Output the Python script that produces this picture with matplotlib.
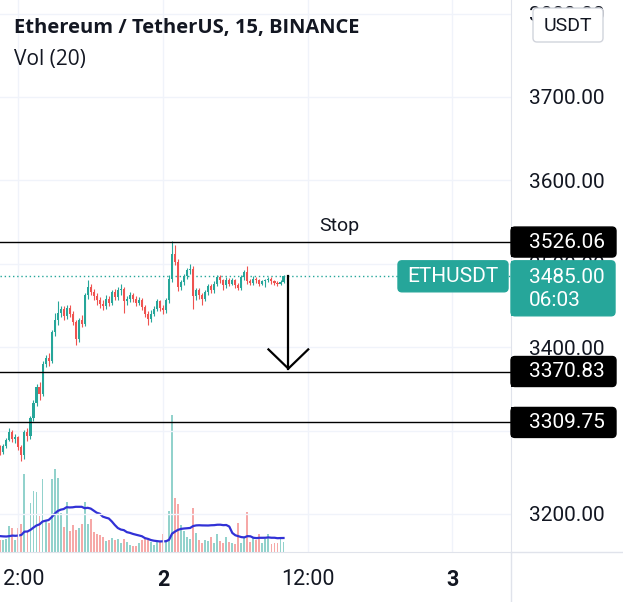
import numpy as np
import pandas as pd
import matplotlib
matplotlib.use('Agg')
import matplotlib.pyplot as plt
from matplotlib.patches import FancyBboxPatch, Rectangle

# ---- data: ETHUSDT 15m candles, 1 Apr 10:30 -> 2 Apr 10:00 ----
opens = [3280, 3274, 3281, 3289, 3298, 3290, 3292, 3280, 3271, 3298,
         3293, 3315, 3333, 3352, 3344, 3380, 3387, 3384, 3418, 3432,
         3441, 3446, 3437, 3447, 3440, 3430, 3410, 3432, 3428, 3462,
         3472, 3466, 3461, 3456, 3452, 3449, 3458, 3453, 3466, 3460,
         3468, 3470, 3455, 3458, 3462, 3458, 3453, 3457, 3448, 3440,
         3434, 3440, 3446, 3455, 3447, 3444, 3456, 3482, 3512, 3502,
         3472, 3478, 3485, 3492, 3494, 3461, 3468, 3462, 3458, 3466,
         3473, 3468, 3476, 3484, 3480, 3474, 3481, 3476, 3480, 3474,
         3471, 3484, 3490, 3479, 3477, 3482, 3480, 3476, 3479, 3480,
         3482, 3479, 3477, 3476, 3478]
highs = [3283, 3284, 3291, 3303, 3301, 3296, 3294, 3283, 3301, 3303,
         3318, 3337, 3356, 3358, 3384, 3391, 3393, 3421, 3441, 3455,
         3449, 3449, 3451, 3450, 3443, 3433, 3435, 3438, 3465, 3481,
         3476, 3470, 3465, 3460, 3457, 3462, 3461, 3469, 3470, 3472,
         3476, 3472, 3461, 3466, 3465, 3461, 3460, 3459, 3451, 3443,
         3444, 3449, 3458, 3457, 3450, 3459, 3486, 3527, 3522, 3506,
         3481, 3488, 3495, 3500, 3497, 3471, 3471, 3465, 3469, 3476,
         3476, 3479, 3487, 3487, 3482, 3484, 3483, 3483, 3482, 3477,
         3487, 3493, 3497, 3482, 3485, 3484, 3482, 3481, 3482, 3484,
         3484, 3481, 3479, 3480, 3487]
lows = [3271, 3272, 3279, 3287, 3286, 3285, 3277, 3263, 3266, 3288,
        3290, 3311, 3330, 3337, 3341, 3376, 3378, 3381, 3414, 3427,
        3436, 3433, 3434, 3436, 3426, 3403, 3406, 3424, 3425, 3458,
        3462, 3457, 3451, 3447, 3445, 3446, 3449, 3450, 3456, 3457,
        3463, 3441, 3450, 3454, 3454, 3449, 3450, 3445, 3436, 3427,
        3430, 3437, 3443, 3443, 3440, 3441, 3453, 3478, 3498, 3467,
        3468, 3475, 3482, 3488, 3446, 3457, 3458, 3451, 3455, 3463,
        3465, 3465, 3473, 3477, 3468, 3471, 3473, 3474, 3471, 3468,
        3469, 3481, 3476, 3474, 3475, 3477, 3473, 3474, 3472, 3478,
        3476, 3475, 3473, 3474, 3477]
closes = [3274, 3281, 3289, 3298, 3290, 3292, 3280, 3271, 3298, 3293,
          3315, 3333, 3352, 3344, 3380, 3387, 3384, 3418, 3432, 3441,
          3446, 3437, 3447, 3440, 3430, 3410, 3432, 3428, 3462, 3472,
          3466, 3461, 3456, 3452, 3449, 3458, 3453, 3466, 3460, 3468,
          3470, 3455, 3458, 3462, 3458, 3453, 3457, 3448, 3440, 3434,
          3440, 3446, 3455, 3447, 3444, 3456, 3482, 3512, 3502, 3472,
          3478, 3485, 3492, 3494, 3461, 3468, 3462, 3458, 3466, 3473,
          3468, 3476, 3484, 3480, 3474, 3481, 3476, 3480, 3474, 3471,
          3484, 3490, 3479, 3477, 3482, 3480, 3476, 3479, 3480, 3482,
          3479, 3477, 3476, 3478, 3485]
volumes = [240, 240, 260, 520, 480, 240, 480, 560, 1560, 400,
           980, 1220, 1200, 720, 1460, 640, 580, 1460, 1660, 1480,
           780, 500, 1000, 420, 540, 440, 480, 560, 1000, 560,
           660, 400, 360, 340, 300, 220, 240, 280, 240, 260,
           180, 260, 200, 140, 120, 120, 180, 240, 260, 240,
           200, 140, 200, 200, 360, 240, 820, 2740, 1080, 960,
           540, 420, 300, 260, 880, 380, 240, 180, 240, 220,
           300, 180, 360, 220, 180, 300, 200, 180, 160, 580,
           180, 300, 800, 200, 300, 240, 360, 180, 260, 360,
           160, 180, 180, 280, 200]
# volumes of the 19 bars before the visible window (for the 20-bar MA)
prior_volumes = [340, 300, 360, 280, 320, 380, 300, 260, 340, 320,
                 300, 360, 280, 340, 300, 320, 360, 300, 340]

levels = [3526.06, 3370.83, 3309.75]
last_price = 3485.00
countdown = '06:03'
price_ticks = [3200, 3300, 3400, 3500, 3600, 3700, 3800]
time_ticks = [-12, 0, 12, 24]
time_labels = ['12:00', '2', '12:00', '3']

UP = '#26a69a'
DOWN = '#ef5350'
TXT = '#131722'
plt.rcParams['font.family'] = ['Roboto', 'DejaVu Sans']

W, H = 623, 602
fig = plt.figure(figsize=(W / 100, H / 100), dpi=100)
ax = fig.add_axes([0, 50 / H, 511 / W, 552 / H])

t = -13.5 + 0.25 * np.arange(len(closes))  # hours from 2 Apr 00:00
o, h, l, c = map(np.array, (opens, highs, lows, closes))
col = np.where(c >= o, UP, DOWN)

# volume pane (overlaid at the bottom)
vax = ax.twinx()
vax.bar(t, volumes, width=0.16, color=col, alpha=0.5, lw=0)
vol_ma = pd.Series(prior_volumes + volumes).rolling(20).mean().iloc[len(prior_volumes):]
vax.plot(t, vol_ma.values, color='#3131d6', lw=1.6)
vax.set_ylim(0, max(volumes) * 552 / 137)
vax.axis('off')
ax.set_zorder(vax.get_zorder() + 1)
ax.patch.set_visible(False)

# candles
ax.vlines(t, l, h, colors=col, lw=0.8, zorder=3)
ax.bar(t, np.maximum(np.abs(c - o), 1.0), bottom=np.minimum(o, c),
       width=0.17, color=col, lw=0, zorder=4)

ax.set_xlim(-13.53, 28.88)
ax.set_ylim(3154.4, 3816.3)

# drawings
for lv in levels:
    ax.axhline(lv, color='black', lw=1.0, zorder=5)
ax.axhline(last_price, color=UP, lw=1.0, ls=(0, (1, 2)), zorder=2)
ax.annotate('Stop', xy=(14.6, levels[0]), xytext=(0, 5), textcoords='offset points',
            ha='center', va='bottom', fontsize=14, color=TXT)
arrow_t = t[-1] + 0.4
tip = levels[1] + 3.5
ax.plot([arrow_t, arrow_t], [last_price, tip], color='black', lw=1.6, zorder=6)
ax.plot([arrow_t - 1.65, arrow_t, arrow_t + 1.65], [tip + 23, tip, tip + 23],
        color='black', lw=1.6, zorder=6)

# axes styling
ax.grid(color='#f0f3fa', lw=1)
ax.yaxis.tick_right()
ax.set_yticks(price_ticks, [f'{p:.2f}' for p in price_ticks])
ax.set_xticks(time_ticks, time_labels)
ax.tick_params(axis='y', length=0, pad=13, labelsize=15, labelcolor=TXT)
ax.tick_params(axis='x', length=0, pad=12, labelsize=15.5, labelcolor=TXT)
for lbl in ax.get_xticklabels():
    if lbl.get_text() in ('2', '3'):
        lbl.set_fontweight('bold')
for s in ('top', 'left'):
    ax.spines[s].set_visible(False)
for s in ('right', 'bottom'):
    ax.spines[s].set_color('#e0e3eb')

# overlay in pixel coordinates for price tags and legend
ov = fig.add_axes([0, 0, 1, 1])
ov.set_xlim(0, W)
ov.set_ylim(H, 0)
ov.axis('off')
ov.set_zorder(10)


def py(price):
    return H - ax.transData.transform((0, price))[1]


def tag(x0, x1, top, hgt, fc, ec=None, square_left=True):
    ov.add_patch(FancyBboxPatch((x0, top), x1 - x0, hgt,
                                boxstyle='round,pad=0,rounding_size=4',
                                fc=fc, ec=ec or fc, lw=1))
    if square_left:
        ov.add_patch(Rectangle((x0, top), 8, hgt, fc=fc, ec='none'))


ov.plot([511, W], [552, 552], color='#e0e3eb', lw=1)
ov.plot([511, 511], [552, H], color='#e0e3eb', lw=1)

for lv in levels:
    yc = py(lv)
    tag(511, 616, yc - 15, 30, 'black')
    ov.text(529, yc, f'{lv:.2f}', color='white', fontsize=15, va='center')

yc = py(last_price)
tag(511, 615, yc - 15.5, 55, UP)
ov.text(529, yc + 1, f'{last_price:.2f}', color='white', fontsize=15, va='center')
ov.text(529, yc + 24, countdown, color='white', fontsize=15, va='center')
tag(398, 508, yc - 15.5, 31, UP, square_left=False)
ov.text(453, yc, 'ETHUSDT', color='white', fontsize=15, va='center', ha='center')

tag(533, 603, 8, 34, 'white', ec='#d1d4dc', square_left=False)
ov.text(568, 26, 'USDT', color=TXT, fontsize=14, va='center', ha='center')

ov.text(14, 28, 'Ethereum / TetherUS, 15, BINANCE', fontsize=14.5, fontweight='bold',
        family=['Open Sans', 'DejaVu Sans'], va='center', color=TXT)
ov.text(14, 59, 'Vol (20)', fontsize=15, family=['Open Sans', 'DejaVu Sans'],
        va='center', color=TXT)

fig.savefig('out.png', dpi=100)
